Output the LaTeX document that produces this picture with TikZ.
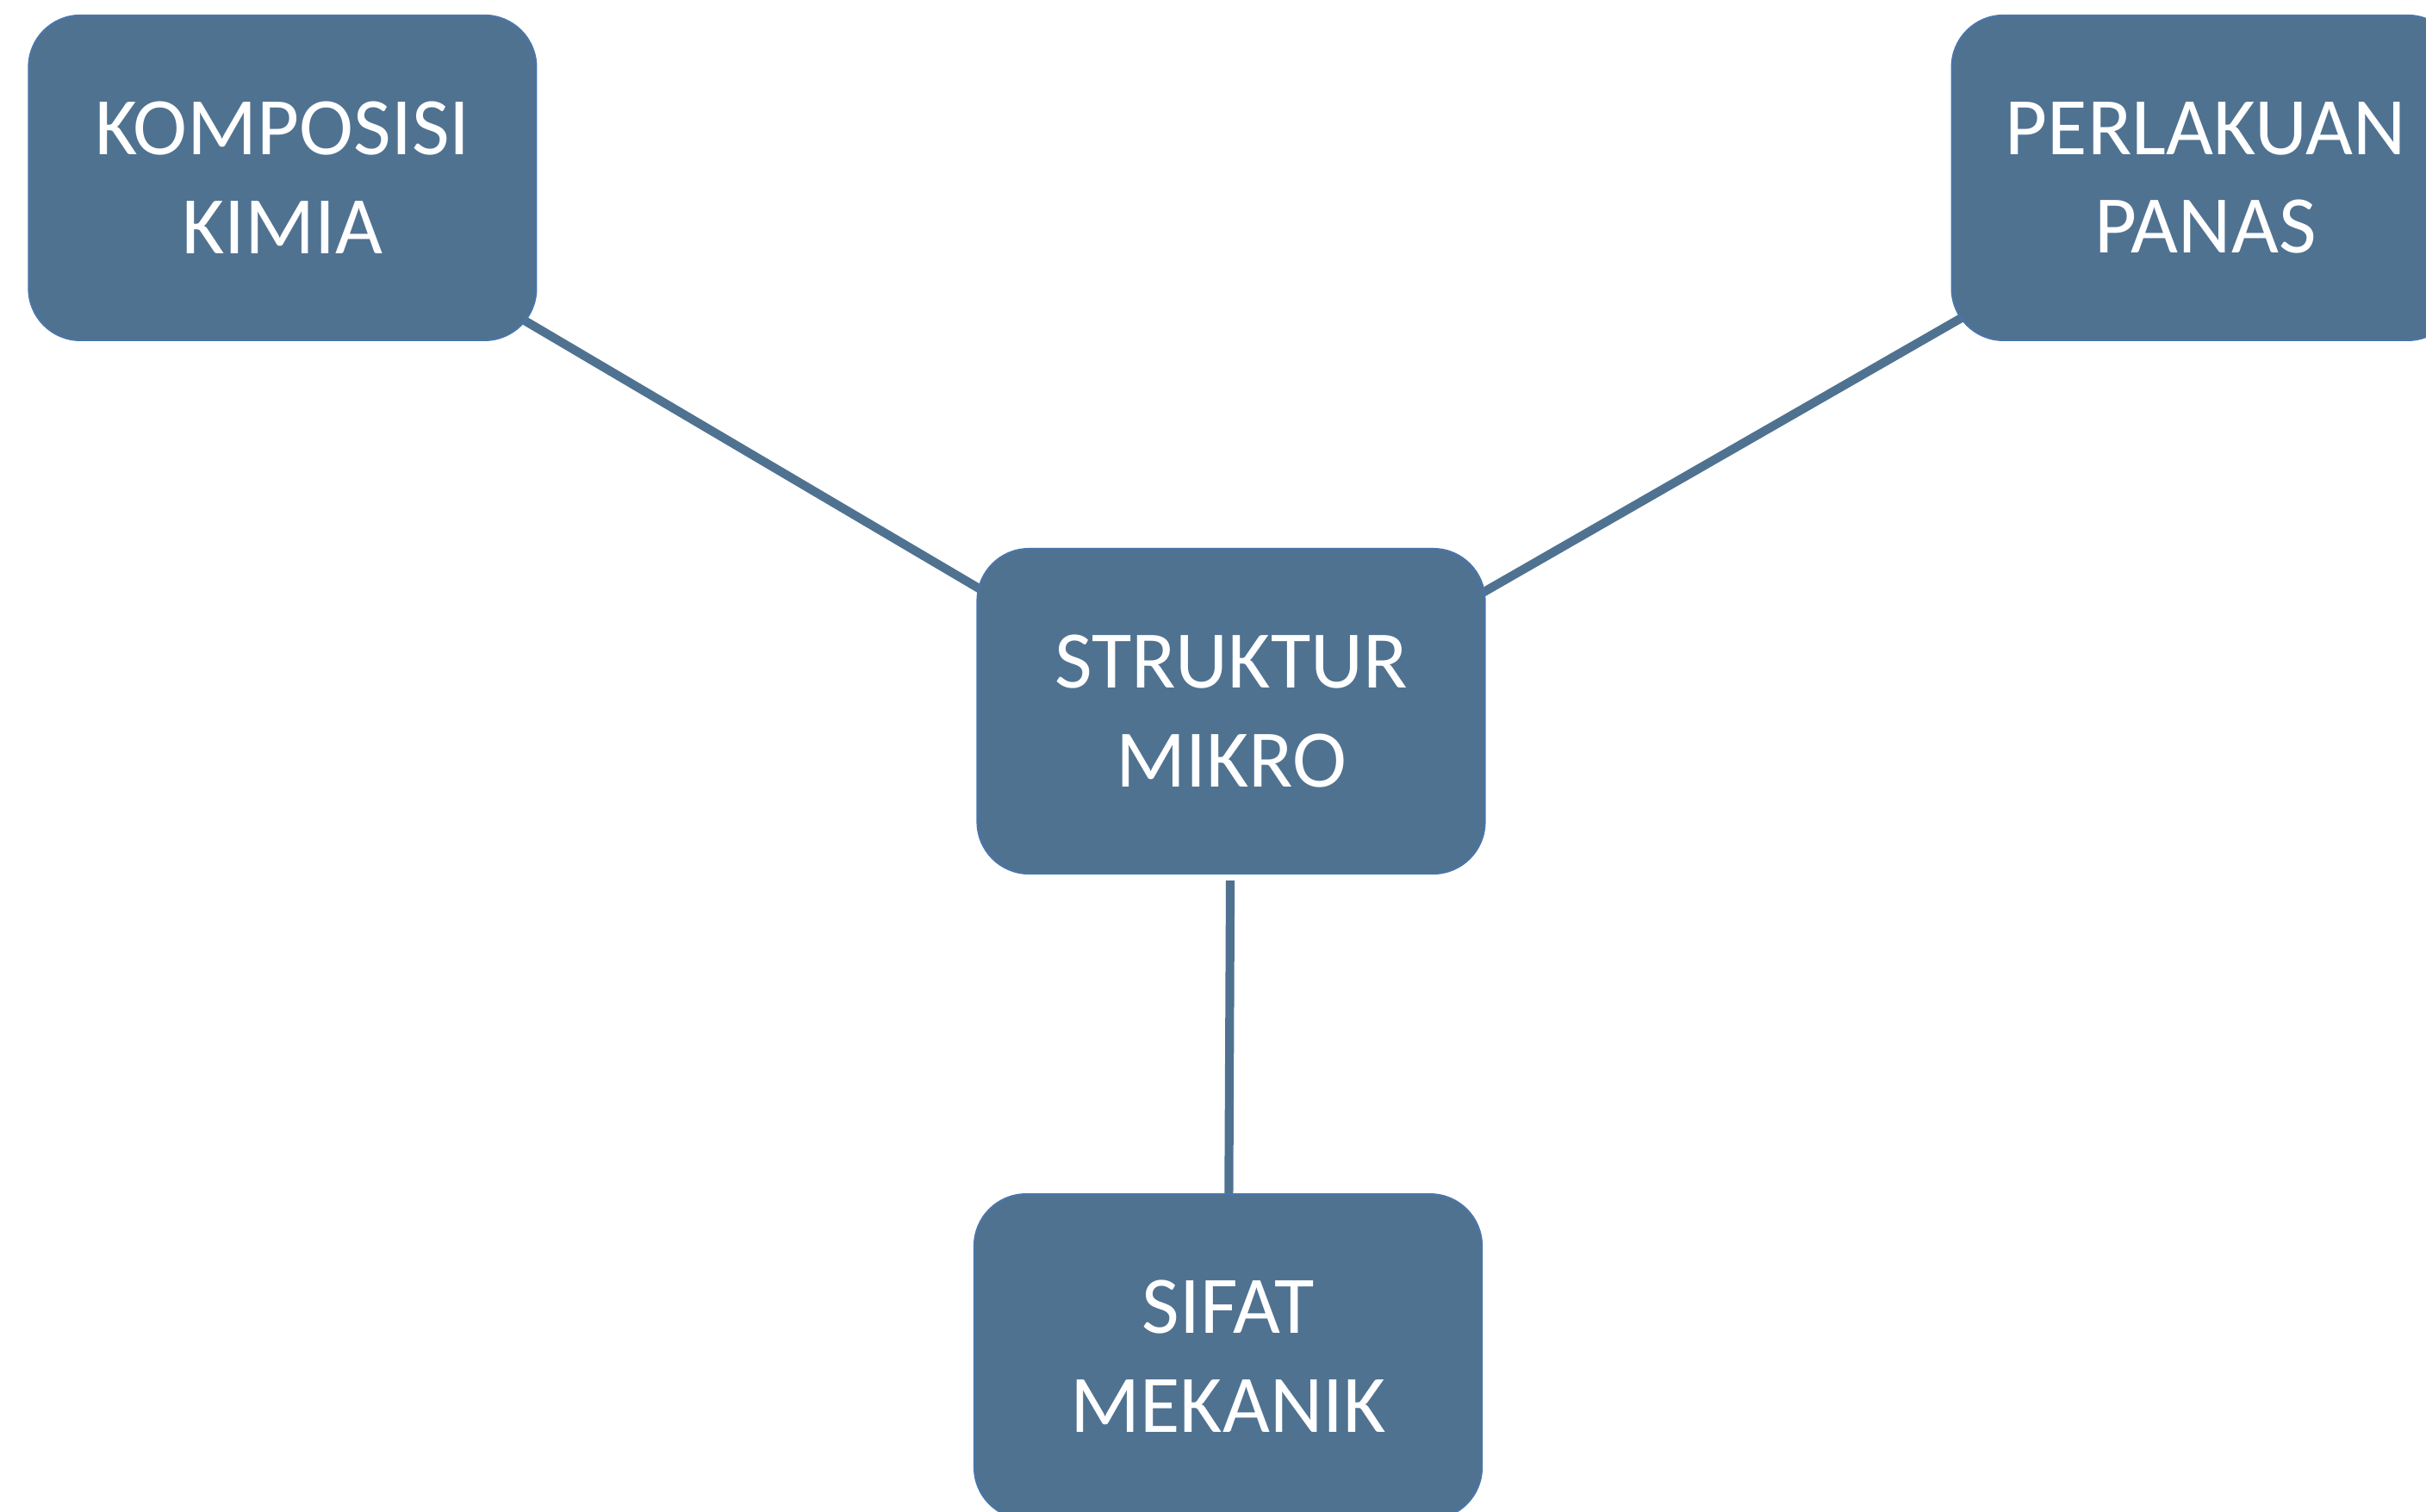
\documentclass[tikz,border=0pt]{standalone}
\usepackage{fontspec}
\setmainfont{Carlito}
\usetikzlibrary{positioning,backgrounds}
\definecolor{boxblue}{RGB}{80,114,145}
\definecolor{rimblue}{RGB}{74,117,168}

\begin{document}
\begin{tikzpicture}[thick, block/.style={rectangle, rounded corners=0.6cm, fill=boxblue, draw=rimblue, line width=0.6pt, minimum width=5.89cm, minimum height=3.77cm, inner sep=0pt, align=center, text=white, font=\fontsize{27}{32.7}\selectfont}, link/.style={draw=boxblue, line width=2.9pt}]
        \useasboundingbox (0,0) rectangle (28.16,-17.54);

        \node[block] (str) at (14.29,-8.255) {STRUKTUR\\MIKRO};
        \node[block] (kom) [above left=2.40cm and 5.10cm of str] {KOMPOSISI\\KIMIA};
        \node[block] (per) [above right=2.40cm and 5.40cm of str] {PERLAKUAN\\PANAS};
        \node[block] (sif) [below=3.70cm of str, xshift=-0.035cm] {SIFAT\\MEKANIK};

        \coordinate (hub) at ([yshift=-0.3cm]str.center);

        \begin{scope}[on background layer]
            \path[link]
                (kom.center) edge (hub)
                (per.center) edge (hub);
        \end{scope}
        \path[link]
            (str) edge[shorten <=0.07cm] (sif);
\end{tikzpicture}
\end{document}
